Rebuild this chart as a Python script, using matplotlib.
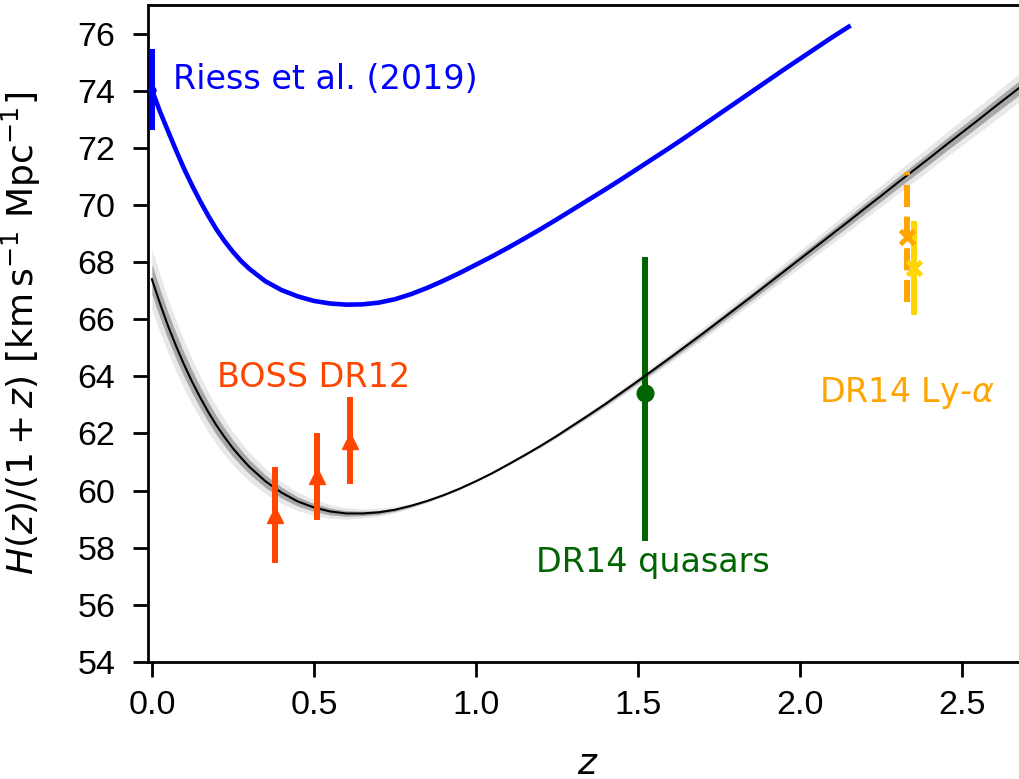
import matplotlib
matplotlib.use('Agg')
import matplotlib.pyplot as plt
import numpy as np

plt.rcParams['font.family'] = ['Liberation Sans', 'DejaVu Sans']
plt.rcParams['mathtext.fontset'] = 'dejavusans'

# LCDM curve (Planck-like)
z_lcdm = [0, 0.025, 0.05, 0.075, 0.1, 0.125, 0.15, 0.175, 0.2, 0.225, 0.25, 0.275, 0.3,
          0.35, 0.4, 0.45, 0.5, 0.55, 0.6, 0.65, 0.7, 0.75, 0.8, 0.85, 0.9, 0.95, 1.0,
          1.05, 1.1, 1.15, 1.2, 1.25, 1.3, 1.35, 1.4, 1.45, 1.5, 1.55, 1.6, 1.65, 1.7,
          1.75, 1.8, 1.85, 1.9, 1.95, 2.0, 2.05, 2.1, 2.15, 2.2, 2.25, 2.3, 2.35, 2.4,
          2.45, 2.5, 2.55, 2.6, 2.65, 2.7]
h_lcdm = [67.40, 66.55, 65.76, 65.05, 64.39, 63.79, 63.24, 62.73, 62.27, 61.86, 61.48,
          61.15, 60.84, 60.33, 59.93, 59.62, 59.41, 59.27, 59.20, 59.20, 59.24, 59.33,
          59.47, 59.64, 59.84, 60.07, 60.33, 60.61, 60.92, 61.24, 61.57, 61.92, 62.29,
          62.66, 63.04, 63.44, 63.84, 64.25, 64.66, 65.08, 65.50, 65.93, 66.36, 66.79,
          67.23, 67.67, 68.11, 68.55, 68.99, 69.43, 69.88, 70.32, 70.77, 71.21, 71.65,
          72.10, 72.54, 72.98, 73.43, 73.87, 74.31]
# 1-sigma half width of the band (2-sigma is twice that)
sig1 = [0.53, 0.50, 0.47, 0.445, 0.42, 0.395, 0.37, 0.35, 0.33, 0.31, 0.29, 0.27, 0.25,
        0.22, 0.19, 0.16, 0.14, 0.12, 0.10, 0.08, 0.07, 0.055, 0.04, 0.03, 0.02, 0.015,
        0.01, 0.015, 0.02, 0.025, 0.03, 0.037, 0.045, 0.052, 0.06, 0.067, 0.075, 0.082,
        0.09, 0.097, 0.105, 0.112, 0.12, 0.127, 0.135, 0.142, 0.15, 0.157, 0.165, 0.172,
        0.18, 0.187, 0.195, 0.202, 0.21, 0.217, 0.225, 0.232, 0.24, 0.245, 0.25]

# curve through the local H0 value
z_blue = [0, 0.025, 0.05, 0.075, 0.1, 0.125, 0.15, 0.175, 0.2, 0.225, 0.25, 0.275, 0.3,
          0.35, 0.4, 0.45, 0.5, 0.55, 0.6, 0.65, 0.7, 0.75, 0.8, 0.85, 0.9, 0.95, 1.0,
          1.05, 1.1, 1.15, 1.2, 1.25, 1.3, 1.35, 1.4, 1.45, 1.5, 1.55, 1.6, 1.65, 1.7,
          1.75, 1.8, 1.85, 1.9, 1.95, 2.0, 2.05, 2.1, 2.15]
h_blue = [74.03, 73.27, 72.58, 71.90, 71.25, 70.66, 70.11, 69.60, 69.13, 68.72, 68.36,
          68.04, 67.77, 67.33, 67.02, 66.80, 66.64, 66.55, 66.51, 66.52, 66.58, 66.70,
          66.88, 67.10, 67.35, 67.62, 67.91, 68.20, 68.51, 68.83, 69.16, 69.50, 69.85,
          70.20, 70.55, 70.91, 71.28, 71.65, 72.02, 72.40, 72.79, 73.18, 73.57, 73.96,
          74.35, 74.74, 75.12, 75.50, 75.88, 76.24]

# measurements
riess_z, riess_h, riess_err = 0.0, 74.03, 1.42
boss_z = [0.38, 0.51, 0.61]
boss_h = [59.15, 60.50, 61.75]
boss_err = [1.68, 1.53, 1.53]
qso_z, qso_h, qso_lo, qso_hi = 1.52, 63.42, 5.18, 4.77
lya1_z, lya1_h, lya1_err = 2.33, 68.87, 2.27
lya2_z, lya2_h, lya2_err = 2.35, 67.80, 1.65

fig = plt.figure(figsize=(10.19, 7.79), dpi=100)
ax = fig.add_axes([148 / 1019, 117 / 779, 879 / 1019, 657 / 779])

h = np.array(h_lcdm)
s = np.array(sig1)
ax.fill_between(z_lcdm, h - 2 * s, h + 2 * s, color='#e8e8e8', lw=0, zorder=1)
ax.fill_between(z_lcdm, h - s, h + s, color='#a8a8a8', lw=0, zorder=1.5)
ax.plot(z_lcdm, h_lcdm, color='black', lw=1.5, zorder=3)
ax.plot(z_blue, h_blue, color='blue', lw=3.3, zorder=3)

ax.errorbar(riess_z, riess_h, yerr=riess_err, fmt='o', color='blue', ms=5,
            elinewidth=4.3, zorder=4)
ax.errorbar(boss_z, boss_h, yerr=boss_err, fmt='^', color='orangered', ms=12,
            elinewidth=4.3, zorder=4)
ax.errorbar(qso_z, qso_h, yerr=[[qso_lo], [qso_hi]], fmt='o', color='darkgreen', ms=12,
            elinewidth=4.3, zorder=2)
e1 = ax.errorbar(lya1_z, lya1_h, yerr=lya1_err, fmt='x', color='orange', ms=10, mew=3.5,
                 elinewidth=4.3, zorder=4)
e1[2][0].set_linestyle('--')
ax.errorbar(lya2_z, lya2_h, yerr=lya2_err, fmt='x', color='gold', ms=10, mew=3.5,
            elinewidth=4.3, zorder=4)

tfont = dict(family=['DejaVu Sans'], fontsize=24)
ax.text(0.065, 74.4, 'Riess et al. (2019)', color='blue', ha='left', va='center', **tfont)
ax.text(0.50, 63.95, 'BOSS DR12', color='orangered', ha='center', va='center', **tfont)
ax.text(1.547, 57.47, 'DR14 quasars', color='darkgreen', ha='center', va='center', **tfont)
ax.text(2.33, 63.4, r'DR14 Ly-$\alpha$', color='orange', ha='center', va='center', **tfont)

ax.set_xlim(-0.012, 2.7)
ax.set_ylim(54, 77)
ax.set_yticks(np.arange(54, 77, 2))
ax.set_xticks([0.0, 0.5, 1.0, 1.5, 2.0, 2.5])

for sp in ax.spines.values():
    sp.set_linewidth(2)
ax.tick_params(axis='both', labelsize=24.5, length=10.5, width=2)
ax.tick_params(axis='x', pad=10)
ax.tick_params(axis='y', pad=13)

ax.set_xlabel(r'$z$', fontsize=26, family=['DejaVu Sans'])
ax.set_ylabel(r'$H(z)/(1+z)$ [km$\,$s$^{-1}$ Mpc$^{-1}$]', fontsize=26,
              family=['DejaVu Sans'])
ax.yaxis.set_label_coords(-0.12, 0.5)
ax.xaxis.set_label_coords(0.5, -0.155)
ax.xaxis.label.set_va('center')

fig.savefig('out.png', dpi=100)
